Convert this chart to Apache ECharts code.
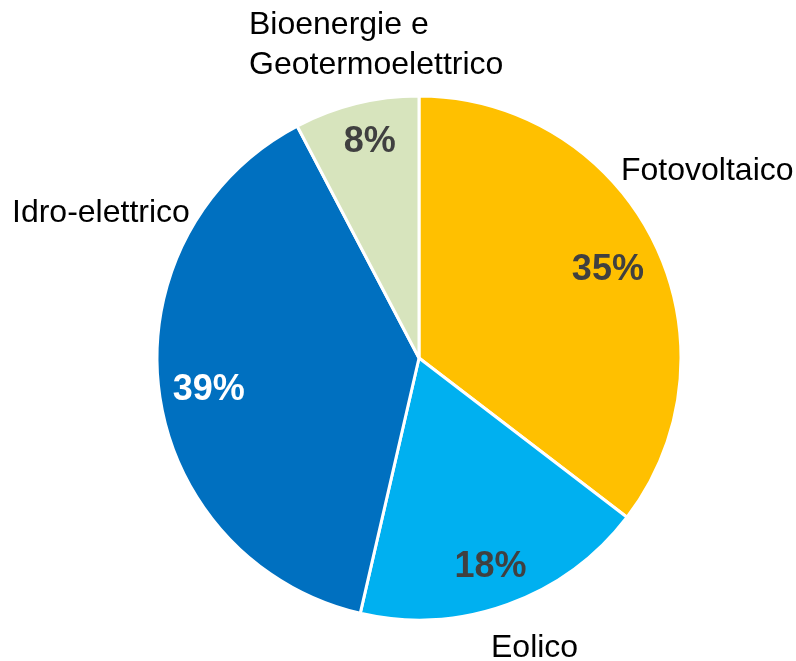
<!DOCTYPE html>
<html>
<head>
<meta charset="utf-8">
<script src="https://cdn.jsdelivr.net/npm/echarts@6/dist/echarts.min.js"></script>
<style>
html,body{margin:0;padding:0;background:#fff;}
#chart{width:796px;height:661px;}
</style>
</head>
<body>
<div id="chart"></div>
<script>
var categories = ['Fotovoltaico', 'Eolico', 'Idro-elettrico', 'Bioenergie e\nGeotermoelettrico'];
var values = [35.4, 18.2, 38.7, 7.7];

var sliceColors = ['#FFC000', '#00B0F0', '#0070C0', '#D7E4BD'];
var pctColors = ['#404040', '#404040', '#FFFFFF', '#404040'];
var namePos = [[621, 171], [491, 648], [12, 213], [249, 45]];
var pctShift = [[-3, 7], [-1, 8], [2, 5], [2, -8]];

var chart = echarts.init(document.getElementById('chart'), null, {renderer: 'canvas'});

var mainData = categories.map(function (c, i) {
  return {name: c, value: values[i], itemStyle: {color: sliceColors[i]}};
});
var pctData = categories.map(function (c, i) {
  return {name: c, value: values[i], label: {color: pctColors[i]}};
});

chart.setOption({
  animation: false,
  backgroundColor: '#ffffff',
  series: [
    {
      type: 'pie',
      center: [419, 358],
      radius: 262,
      startAngle: 90,
      clockwise: true,
      silent: true,
      itemStyle: {borderColor: '#ffffff', borderWidth: 3},
      label: {
        show: true,
        position: 'outside',
        formatter: '{b}',
        fontFamily: 'Liberation Sans, Arial, sans-serif',
        fontSize: 32,
        lineHeight: 40,
        color: '#000000',
        overflow: 'none',
        width: 400
      },
      labelLine: {show: false},
      labelLayout: function (p) {
        var pos = namePos[p.dataIndex];
        return {x: pos[0], y: pos[1], align: 'left', verticalAlign: 'middle'};
      },
      data: mainData
    },
    {
      type: 'pie',
      center: [419, 358],
      radius: [160, 262],
      startAngle: 90,
      clockwise: true,
      silent: true,
      itemStyle: {color: 'rgba(0,0,0,0)', borderWidth: 0},
      label: {
        show: true,
        position: 'inside',
        formatter: function (p) { return Math.round(p.value) + '%'; },
        fontFamily: 'Liberation Sans, Arial, sans-serif',
        fontWeight: 'bold',
        fontSize: 36
      },
      labelLine: {show: false},
      labelLayout: function (p) {
        var s = pctShift[p.dataIndex];
        return {dx: s[0], dy: s[1]};
      },
      data: pctData
    }
  ]
});
</script>
</body>
</html>
